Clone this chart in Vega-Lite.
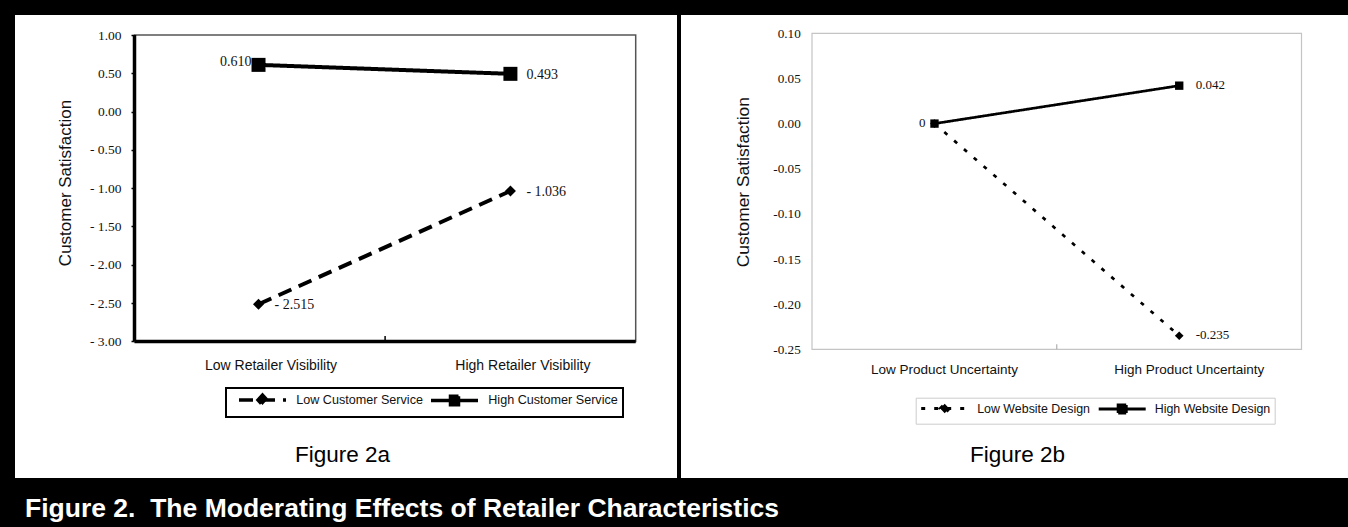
{
  "$schema": "https://vega.github.io/schema/vega-lite/v6.json",
  "background": "black",
  "padding": {"left": 15, "top": 15, "right": 0, "bottom": 4},
  "spacing": 4,
  "resolve": {
    "scale": {"strokeDash": "independent"},
    "legend": {"strokeDash": "independent"}
  },
  "title": {
    "text": "Figure 2.\u00a0 The Moderating Effects of Retailer Characteristics",
    "orient": "bottom",
    "anchor": "start",
    "frame": "group",
    "color": "white",
    "font": "Liberation Sans",
    "fontSize": 26.5,
    "fontWeight": "bold",
    "baseline": "alphabetic",
    "offset": 39.3,
    "dx": 10
  },
  "config": {
    "view": {"fill": "white", "stroke": null},
    "axis": {"grid": false}
  },
  "hconcat": [
    {
      "width": 662,
      "height": 463,
      "title": {
        "text": "Figure 2a",
        "orient": "bottom",
        "frame": "group",
        "anchor": "middle",
        "offset": -16,
        "baseline": "alphabetic",
        "font": "Liberation Sans",
        "fontSize": 22.5,
        "fontWeight": "normal",
        "color": "black",
        "dx": -3.5
      },
      "data": {
        "values": [
          {"visibility": "Low Retailer Visibility", "service": "Low Customer Service", "satisfaction": -2.515, "label": "- 2.515"},
          {"visibility": "High Retailer Visibility", "service": "Low Customer Service", "satisfaction": -1.036, "label": "- 1.036"},
          {"visibility": "Low Retailer Visibility", "service": "High Customer Service", "satisfaction": 0.610, "label": "0.610"},
          {"visibility": "High Retailer Visibility", "service": "High Customer Service", "satisfaction": 0.493, "label": "0.493"}
        ]
      },
      "resolve": {"scale": {"x": "independent"}},
      "layer": [
        {
          "data": {"values": [{}]},
          "layer": [
            {
              "mark": {"type": "rect", "filled": false, "color": "#555555", "strokeWidth": 1.5},
              "encoding": {
                "x": {"datum": 0, "type": "quantitative", "scale": {"domain": [-0.23843, 1.0824], "nice": false, "zero": false}, "axis": null},
                "x2": {"datum": 1},
                "y": {"datum": -3, "type": "quantitative", "scale": {"domain": [-4.7833, 1.2611], "nice": false, "zero": false}},
                "y2": {"datum": 1}
              }
            },
            {
              "mark": {"type": "rule", "color": "black", "strokeWidth": 3.5},
              "encoding": {
                "x": {"datum": 0, "type": "quantitative"},
                "y": {"datum": -3, "type": "quantitative"},
                "y2": {"datum": 1}
              }
            },
            {
              "mark": {"type": "rule", "color": "black", "strokeWidth": 3.5},
              "encoding": {
                "x": {"datum": 0, "type": "quantitative"},
                "x2": {"datum": 1},
                "y": {"datum": -3, "type": "quantitative"}
              }
            },
            {
              "mark": {"type": "rule", "color": "black", "strokeWidth": 1.5},
              "encoding": {
                "x": {"datum": 0.5, "type": "quantitative"},
                "y": {"datum": -3, "type": "quantitative"},
                "y2": {"datum": -2.93}
              }
            }
          ]
        },
        {
          "layer": [
            {
              "mark": {"type": "line", "color": "black", "strokeWidth": 4},
              "encoding": {
                "x": {
                  "field": "visibility", "type": "nominal",
                  "scale": {"type": "point", "domain": ["Low Retailer Visibility", "High Retailer Visibility"], "padding": 0.814, "align": 0.5938},
                  "axis": {"orient": "bottom", "offset": -136.6, "domain": false, "ticks": false, "tickSize": 0, "labelPadding": 16.6, "labelFont": "Liberation Sans", "labelFontSize": 14, "labelColor": "#111111", "labelAngle": 0, "labelOffset": 12, "title": null}
                },
                "y": {
                  "field": "satisfaction", "type": "quantitative",
                  "scale": {"domain": [-4.7833, 1.2611], "nice": false, "zero": false},
                  "axis": {
                    "orient": "left", "offset": -119.5,
                    "values": [-3, -2.5, -2, -1.5, -1, -0.5, 0, 0.5, 1],
                    "labelExpr": "datum.value < 0 ? '- ' + format(-datum.value, '.2f') : format(datum.value, '.2f')",
                    "domain": false, "ticks": true, "tickSize": 3.5, "tickWidth": 1.5, "tickColor": "black",
                    "labelPadding": 10, "labelFont": "Liberation Serif", "labelFontSize": 13.5, "labelColor": "#111111",
                    "title": "Customer Satisfaction", "titleFont": "Liberation Sans", "titleFontSize": 17, "titleFontWeight": "normal", "titleColor": "#111111",
                    "titleX": -68.8, "titleY": 167.5, "titleAngle": 270, "titleAlign": "center", "titleBaseline": "middle"
                  }
                },
                "strokeDash": {
                  "field": "service", "type": "nominal",
                  "scale": {"domain": ["Low Customer Service", "High Customer Service"], "range": [[14, 8], [1, 0]]},
                  "legend": {
                    "title": null, "orient": "none", "legendX": 211, "legendY": 373, "direction": "horizontal",
                    "symbolSize": 100, "symbolStrokeWidth": 3.5, "symbolStrokeColor": "black", "symbolFillColor": "black",
                    "labelFont": "Liberation Sans", "labelFontSize": 12.6, "labelColor": "#111111", "labelOffset": 51.25,
                    "columnPadding": 0, "padding": 5, "strokeColor": "black", "fillColor": "white",
                    "encode": {
                      "symbols": {"update": {
                        "shape": {"signal": "datum.value === 'Low Customer Service' ? 'M0.2,0H9.6M4,0L4.9,-1L5.8,0L4.9,1Z' : 'M0.2,0H9.6M4.1,-0.85H5.7V0.85H4.1Z'"},
                        "fill": {"value": "black"},
                        "stroke": {"value": "black"}
                      }},
                      "legend": {"update": {"strokeWidth": {"value": 2}}}
                    }
                  }
                }
              }
            },
            {
              "transform": [{"filter": "datum.service === 'Low Customer Service'"}],
              "mark": {"type": "point", "shape": "diamond", "size": 121, "filled": true, "opacity": 1, "color": "black"},
              "encoding": {
                "x": {"field": "visibility", "type": "nominal"},
                "y": {"field": "satisfaction", "type": "quantitative"}
              }
            },
            {
              "transform": [{"filter": "datum.service === 'High Customer Service'"}],
              "mark": {"type": "point", "shape": "square", "size": 196, "filled": true, "opacity": 1, "color": "black"},
              "encoding": {
                "x": {"field": "visibility", "type": "nominal"},
                "y": {"field": "satisfaction", "type": "quantitative"}
              }
            },
            {
              "transform": [{"filter": "datum.visibility === 'Low Retailer Visibility' && datum.service === 'High Customer Service'"}],
              "mark": {"type": "text", "align": "right", "baseline": "middle", "dx": -7, "dy": -3, "font": "Liberation Serif", "fontSize": 14, "color": "#111111"},
              "encoding": {
                "x": {"field": "visibility", "type": "nominal"},
                "y": {"field": "satisfaction", "type": "quantitative"},
                "text": {"field": "label"}
              }
            },
            {
              "transform": [{"filter": "!(datum.visibility === 'Low Retailer Visibility' && datum.service === 'High Customer Service')"}],
              "mark": {"type": "text", "align": "left", "baseline": "middle", "dx": 16, "dy": 1, "font": "Liberation Serif", "fontSize": 14, "color": "#111111"},
              "encoding": {
                "x": {"field": "visibility", "type": "nominal"},
                "y": {"field": "satisfaction", "type": "quantitative"},
                "text": {"field": "label"}
              }
            }
          ]
        }
      ]
    },
    {
      "width": 667,
      "height": 463,
      "title": {
        "text": "Figure 2b",
        "orient": "bottom",
        "frame": "group",
        "anchor": "middle",
        "offset": -16,
        "baseline": "alphabetic",
        "font": "Liberation Sans",
        "fontSize": 22.5,
        "fontWeight": "normal",
        "color": "black",
        "dx": 3
      },
      "data": {
        "values": [
          {"uncertainty": "Low Product Uncertainty", "design": "Low Website Design", "satisfaction": 0, "label": null},
          {"uncertainty": "High Product Uncertainty", "design": "Low Website Design", "satisfaction": -0.235, "label": "-0.235"},
          {"uncertainty": "Low Product Uncertainty", "design": "High Website Design", "satisfaction": 0, "label": "0"},
          {"uncertainty": "High Product Uncertainty", "design": "High Website Design", "satisfaction": 0.042, "label": "0.042"}
        ]
      },
      "resolve": {"scale": {"x": "independent"}},
      "layer": [
        {
          "data": {"values": [{}]},
          "layer": [
            {
              "mark": {"type": "rect", "filled": false, "color": "#c4c4c4", "strokeWidth": 1.2},
              "encoding": {
                "x": {"datum": 0, "type": "quantitative", "scale": {"domain": [-0.26762, 1.09499], "nice": false, "zero": false}, "axis": null},
                "x2": {"datum": 1},
                "y": {"datum": -0.25, "type": "quantitative", "scale": {"domain": [-0.39254, 0.12027], "nice": false, "zero": false}},
                "y2": {"datum": 0.1}
              }
            },
            {
              "mark": {"type": "rule", "color": "#b0b0b0", "strokeWidth": 1.2},
              "encoding": {
                "x": {"datum": 0.5, "type": "quantitative"},
                "y": {"datum": -0.25, "type": "quantitative"},
                "y2": {"datum": -0.2445}
              }
            }
          ]
        },
        {
          "layer": [
            {
              "mark": {"type": "line", "color": "black", "strokeWidth": 2.7},
              "encoding": {
                "x": {
                  "field": "uncertainty", "type": "nominal",
                  "scale": {"type": "point", "domain": ["Low Product Uncertainty", "High Product Uncertainty"], "padding": 0.8627, "align": 0.6003},
                  "axis": {"orient": "bottom", "offset": -128.7, "domain": false, "ticks": false, "tickSize": 0, "labelPadding": 13.2, "labelFont": "Liberation Sans", "labelFontSize": 13.5, "labelColor": "#111111", "labelAngle": 0, "labelOffset": 9.5, "title": null}
                },
                "y": {
                  "field": "satisfaction", "type": "quantitative",
                  "scale": {"domain": [-0.39254, 0.12027], "nice": false, "zero": false},
                  "axis": {
                    "orient": "left", "offset": -131,
                    "values": [-0.25, -0.2, -0.15, -0.1, -0.05, 0, 0.05, 0.1],
                    "labelExpr": "(datum.value < -0.000001 ? '-' : '') + format(abs(datum.value), '.2f')",
                    "domain": false, "ticks": false, "tickSize": 0,
                    "labelPadding": 11.7, "labelFont": "Liberation Serif", "labelFontSize": 13.2, "labelColor": "#111111",
                    "title": "Customer Satisfaction", "titleFont": "Liberation Sans", "titleFontSize": 17.4, "titleFontWeight": "normal", "titleColor": "#111111",
                    "titleX": -68.3, "titleY": 166.7, "titleAngle": 270, "titleAlign": "center", "titleBaseline": "middle"
                  }
                },
                "strokeDash": {
                  "field": "design", "type": "nominal",
                  "scale": {"domain": ["Low Website Design", "High Website Design"], "range": [[4, 9], [1, 0]]},
                  "legend": {
                    "title": null, "orient": "none", "legendX": 234.7, "legendY": 382.7, "direction": "horizontal",
                    "symbolSize": 100, "symbolStrokeWidth": 3, "symbolStrokeColor": "black", "symbolFillColor": "black",
                    "labelFont": "Liberation Sans", "labelFontSize": 12.4, "labelColor": "#111111", "labelOffset": 44.5,
                    "columnPadding": 1.5, "padding": 4, "strokeColor": "#cccccc", "fillColor": "white",
                    "encode": {
                      "symbols": {"update": {
                        "shape": {"signal": "datum.value === 'Low Website Design' ? 'M-1,0H8.4M2.8,0L3.7,-0.95L4.6,0L3.7,0.95Z' : 'M-1,0H8.4M2.9,-0.8H4.5V0.8H2.9Z'"},
                        "fill": {"value": "black"},
                        "stroke": {"value": "black"}
                      }},
                      "legend": {"update": {"strokeWidth": {"value": 1}}}
                    }
                  }
                }
              }
            },
            {
              "transform": [{"filter": "datum.design === 'Low Website Design'"}],
              "mark": {"type": "point", "shape": "diamond", "size": 75, "filled": true, "opacity": 1, "color": "black"},
              "encoding": {
                "x": {"field": "uncertainty", "type": "nominal"},
                "y": {"field": "satisfaction", "type": "quantitative"}
              }
            },
            {
              "transform": [{"filter": "datum.design === 'High Website Design'"}],
              "mark": {"type": "point", "shape": "square", "size": 70, "filled": true, "opacity": 1, "color": "black"},
              "encoding": {
                "x": {"field": "uncertainty", "type": "nominal"},
                "y": {"field": "satisfaction", "type": "quantitative"}
              }
            },
            {
              "transform": [{"filter": "datum.label != null && datum.uncertainty === 'Low Product Uncertainty'"}],
              "mark": {"type": "text", "align": "right", "baseline": "middle", "dx": -9, "dy": -1, "font": "Liberation Serif", "fontSize": 13, "color": "#111111"},
              "encoding": {
                "x": {"field": "uncertainty", "type": "nominal"},
                "y": {"field": "satisfaction", "type": "quantitative"},
                "text": {"field": "label"}
              }
            },
            {
              "transform": [{"filter": "datum.label != null && datum.uncertainty === 'High Product Uncertainty'"}],
              "mark": {"type": "text", "align": "left", "baseline": "middle", "dx": 16.5, "dy": -0.5, "font": "Liberation Serif", "fontSize": 13, "color": "#111111"},
              "encoding": {
                "x": {"field": "uncertainty", "type": "nominal"},
                "y": {"field": "satisfaction", "type": "quantitative"},
                "text": {"field": "label"}
              }
            }
          ]
        }
      ]
    }
  ]
}
